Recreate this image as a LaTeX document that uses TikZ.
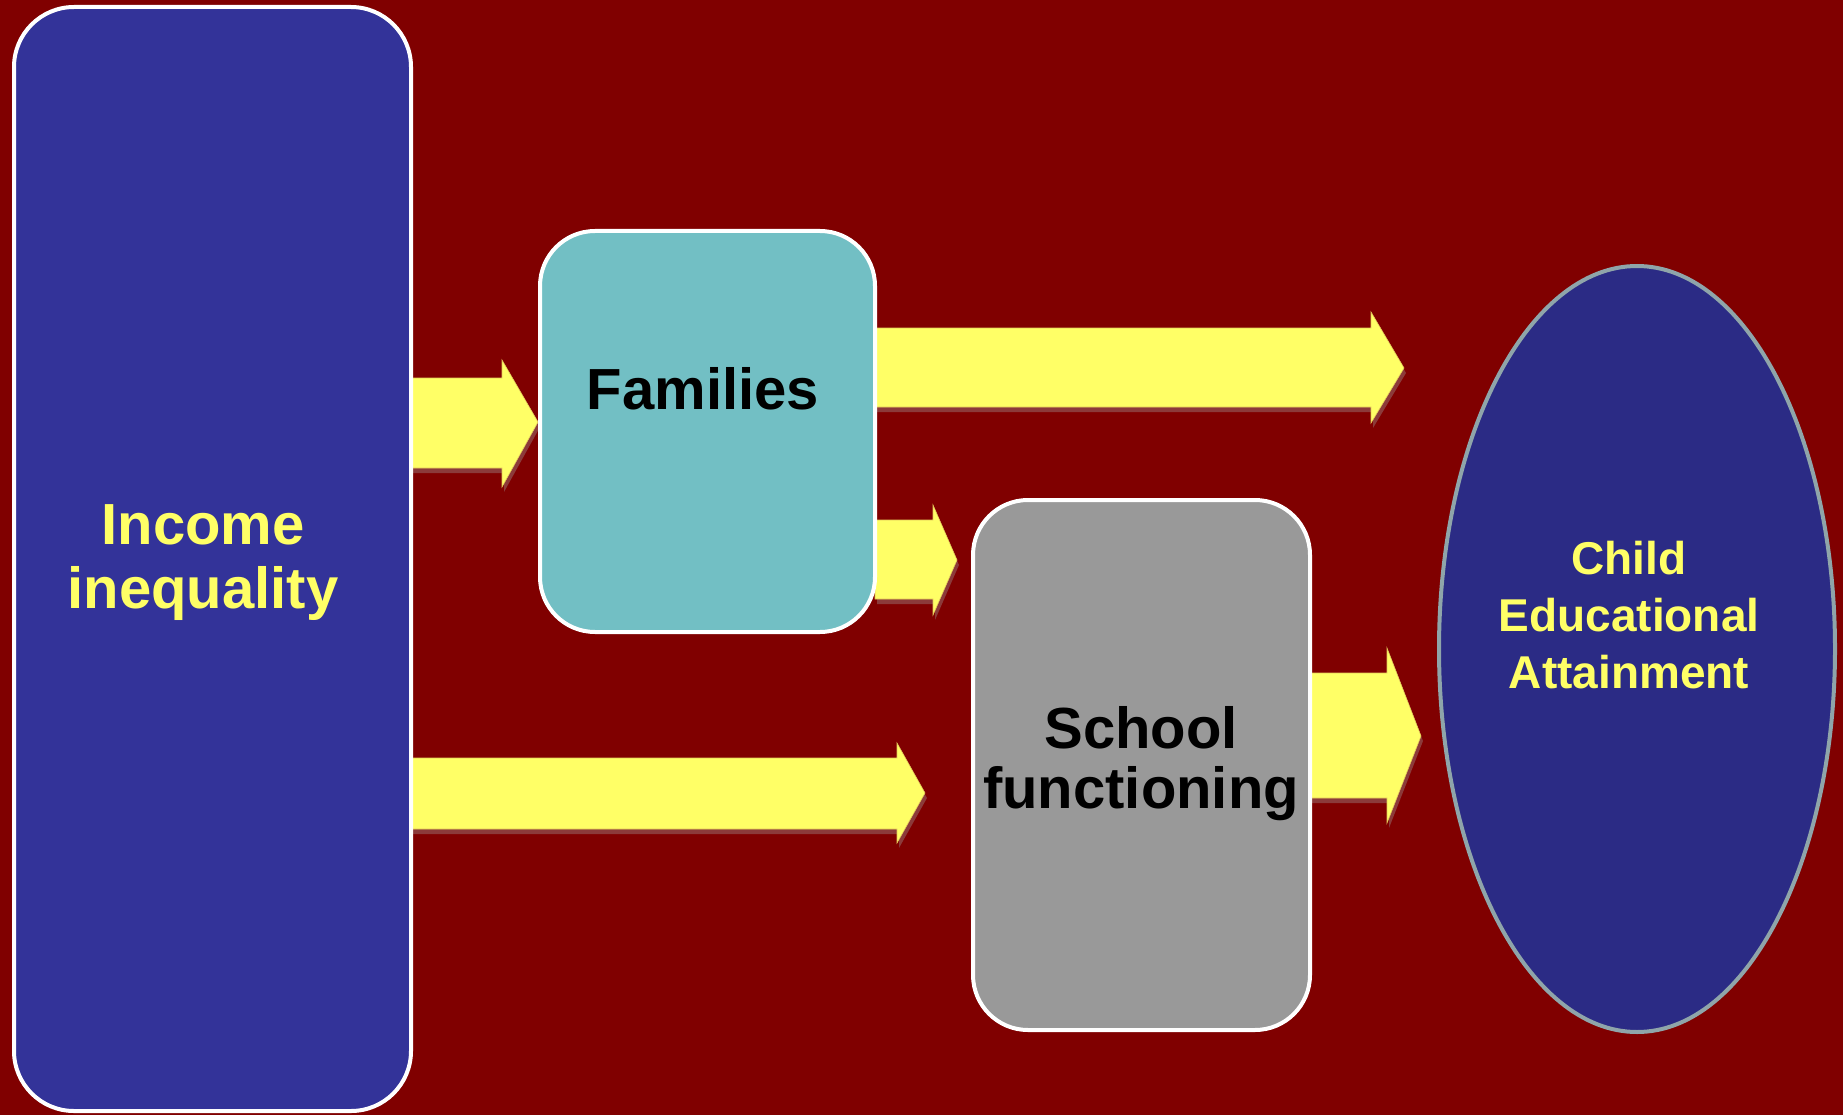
\documentclass[tikz,border=0pt]{standalone}
\usepackage{fontspec}
\setmainfont{Liberation Sans}
\usetikzlibrary{shapes.geometric}
\definecolor{bg}{RGB}{128,0,0}
\definecolor{incblue}{RGB}{51,51,153}
\definecolor{famteal}{RGB}{114,191,196}
\definecolor{schgray}{RGB}{153,153,153}
\definecolor{ellblue}{RGB}{43,43,133}
\definecolor{ellborder}{RGB}{143,165,170}
\definecolor{arryellow}{RGB}{255,255,102}
\definecolor{arredge}{RGB}{225,200,90}
\definecolor{txtyellow}{RGB}{255,255,102}
\definecolor{shadowc}{RGB}{140,58,58}
\newcommand{\blockarrow}[8]{%
  \fill[shadowc, shift={(2,5)}] (#1,#2) -- (#4,#2) -- (#4,#5) -- (#7,#8) -- (#4,#6) -- (#4,#3) -- (#1,#3) -- cycle;
  \filldraw[yarrow] (#1,#2) -- (#4,#2) -- (#4,#5) -- (#7,#8) -- (#4,#6) -- (#4,#3) -- (#1,#3) -- cycle;}
\begin{document}
\begin{tikzpicture}[x=1pt,y=-1pt,
  box/.style={draw=white, line width=4pt, rounded corners=55pt, inner sep=0pt},
  yarrow/.style={fill=arryellow, draw=arredge, line width=0.6pt},
  lbl/.style={font=\bfseries\fontsize{58}{64}\selectfont, align=center, inner sep=0pt}]
\useasboundingbox (0,0) rectangle (1843,1115);
\fill[bg] (0,0) rectangle (1843,1115);
% arrows
\blockarrow{411}{378}{468}{502}{360}{487}{538}{422}
\blockarrow{875}{328}{407}{1371}{312}{423}{1404}{368}
\blockarrow{875}{520}{599}{933}{505}{615}{957}{560}
\blockarrow{411}{758}{829}{897}{743}{843}{925}{793}
\blockarrow{1310}{673}{798}{1387}{648}{823}{1421}{736}
% boxes
\node[box, fill=incblue, minimum width=397pt, minimum height=1104pt, rounded corners=60pt] (inc) at (212.5,559) {};
\node[box, fill=famteal, minimum width=335pt, minimum height=401pt] (fam) at (707.5,431.5) {};
\node[box, fill=schgray, minimum width=337pt, minimum height=530pt] (sch) at (1141.5,765) {};
\node[ellipse, draw=ellborder, line width=4pt, fill=ellblue, inner sep=0pt, minimum width=396pt, minimum height=766pt] (ell) at (1637,649) {};
% labels
\node[lbl, text=txtyellow] (inctxt) at (203,563) {Income\\inequality};
\node[lbl, text=black, anchor=base] (famtxt) at (703,409) {Families};
\node[lbl, text=black, font=\bfseries\fontsize{58}{60}\selectfont] (schtxt) at (1141,764) {School\\functioning};
\node[lbl, text=txtyellow, font=\bfseries\fontsize{46}{57}\selectfont] (elltxt) at (1629,615) {Child\\Educational\\Attainment};
\end{tikzpicture}
\end{document}
